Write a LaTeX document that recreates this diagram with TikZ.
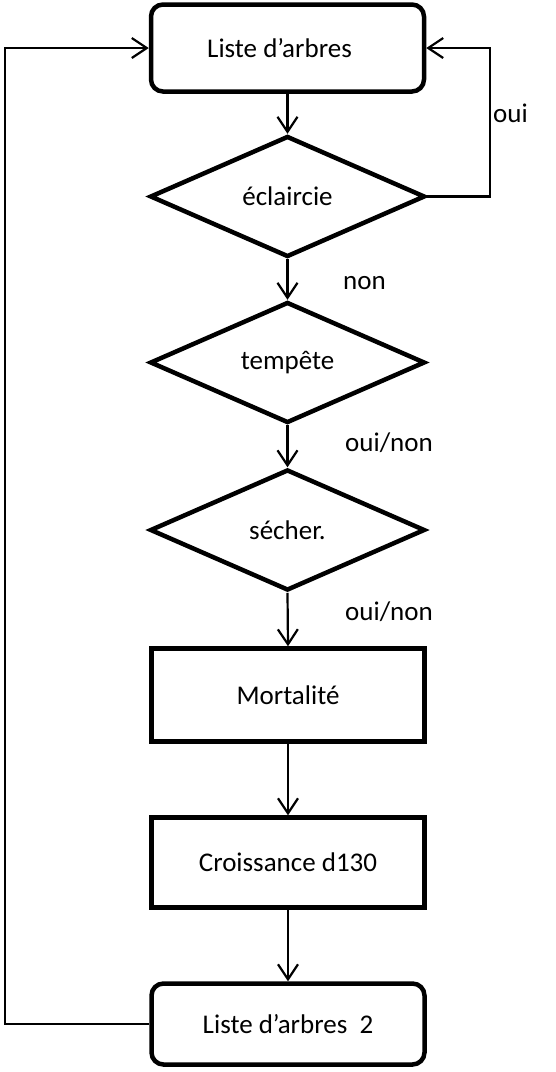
\documentclass[tikz,border=0pt]{standalone}
\usepackage{fontspec}
\setmainfont{Carlito}
\usetikzlibrary{shapes.geometric,arrows.meta}
\begin{document}
\begin{tikzpicture}[x=1pt,y=-1pt,
  every node/.style={font=\fontsize{27}{32}\selectfont},
  boxstyle/.style={draw,line width=4.5pt,minimum width=273pt,inner sep=0pt},
  roundbox/.style={boxstyle,rounded corners=12pt},
  decision/.style={draw,line width=4.5pt,diamond,aspect=2.25,inner sep=0pt,minimum width=275pt,minimum height=121pt},
  conn/.style={line width=2.2pt,-{Straight Barb[length=15pt,width=20pt,line width=2.2pt]}},
  lbl/.style={inner sep=0pt}]
\useasboundingbox (0,0) rectangle (556,1072);
\node[roundbox,minimum height=87pt] (L1) at (287.5,48) {Liste d’arbres\kern16pt\relax};
\node[decision] (D1) at (287.5,196.5) {éclaircie};
\node[decision] (D2) at (287.5,362.5) {tempête};
\node[decision] (D3) at (287.5,530) {sécher.};
\node[boxstyle,minimum height=93pt] (M) at (288,695) {Mortalité};
\node[boxstyle,minimum height=90pt] (C) at (288,862.5) {Croissance d130};
\node[roundbox,minimum height=81pt] (L2) at (288,1024) {Liste d’arbres~~2};
\node[lbl,anchor=west] (oui) at (493,113) {oui};
\node[lbl,anchor=west] (non) at (343,283) {non};
\node[lbl,anchor=west] (on1) at (345,443) {oui/non};
\node[lbl,anchor=west] (on2) at (345,612) {oui/non};
\coordinate (lft) at (5,48);
\coordinate (rgt) at (490,48);
\draw[conn] (L1.south) -- (D1.north);
\draw[conn] (D1.south) -- (D2.north);
\draw[conn] (D2.south) -- (D3.north);
\draw[conn] (D3.south) -- (M.north);
\draw[conn] (M.south) -- (C.north);
\draw[conn] (C.south) -- (L2.north);
\draw[conn] (L2.west) -- (L2.west -| lft) |- (L1.west);
\draw[conn] (D1.east) -- (D1.east -| rgt) |- (L1.east);
\end{tikzpicture}
\end{document}
